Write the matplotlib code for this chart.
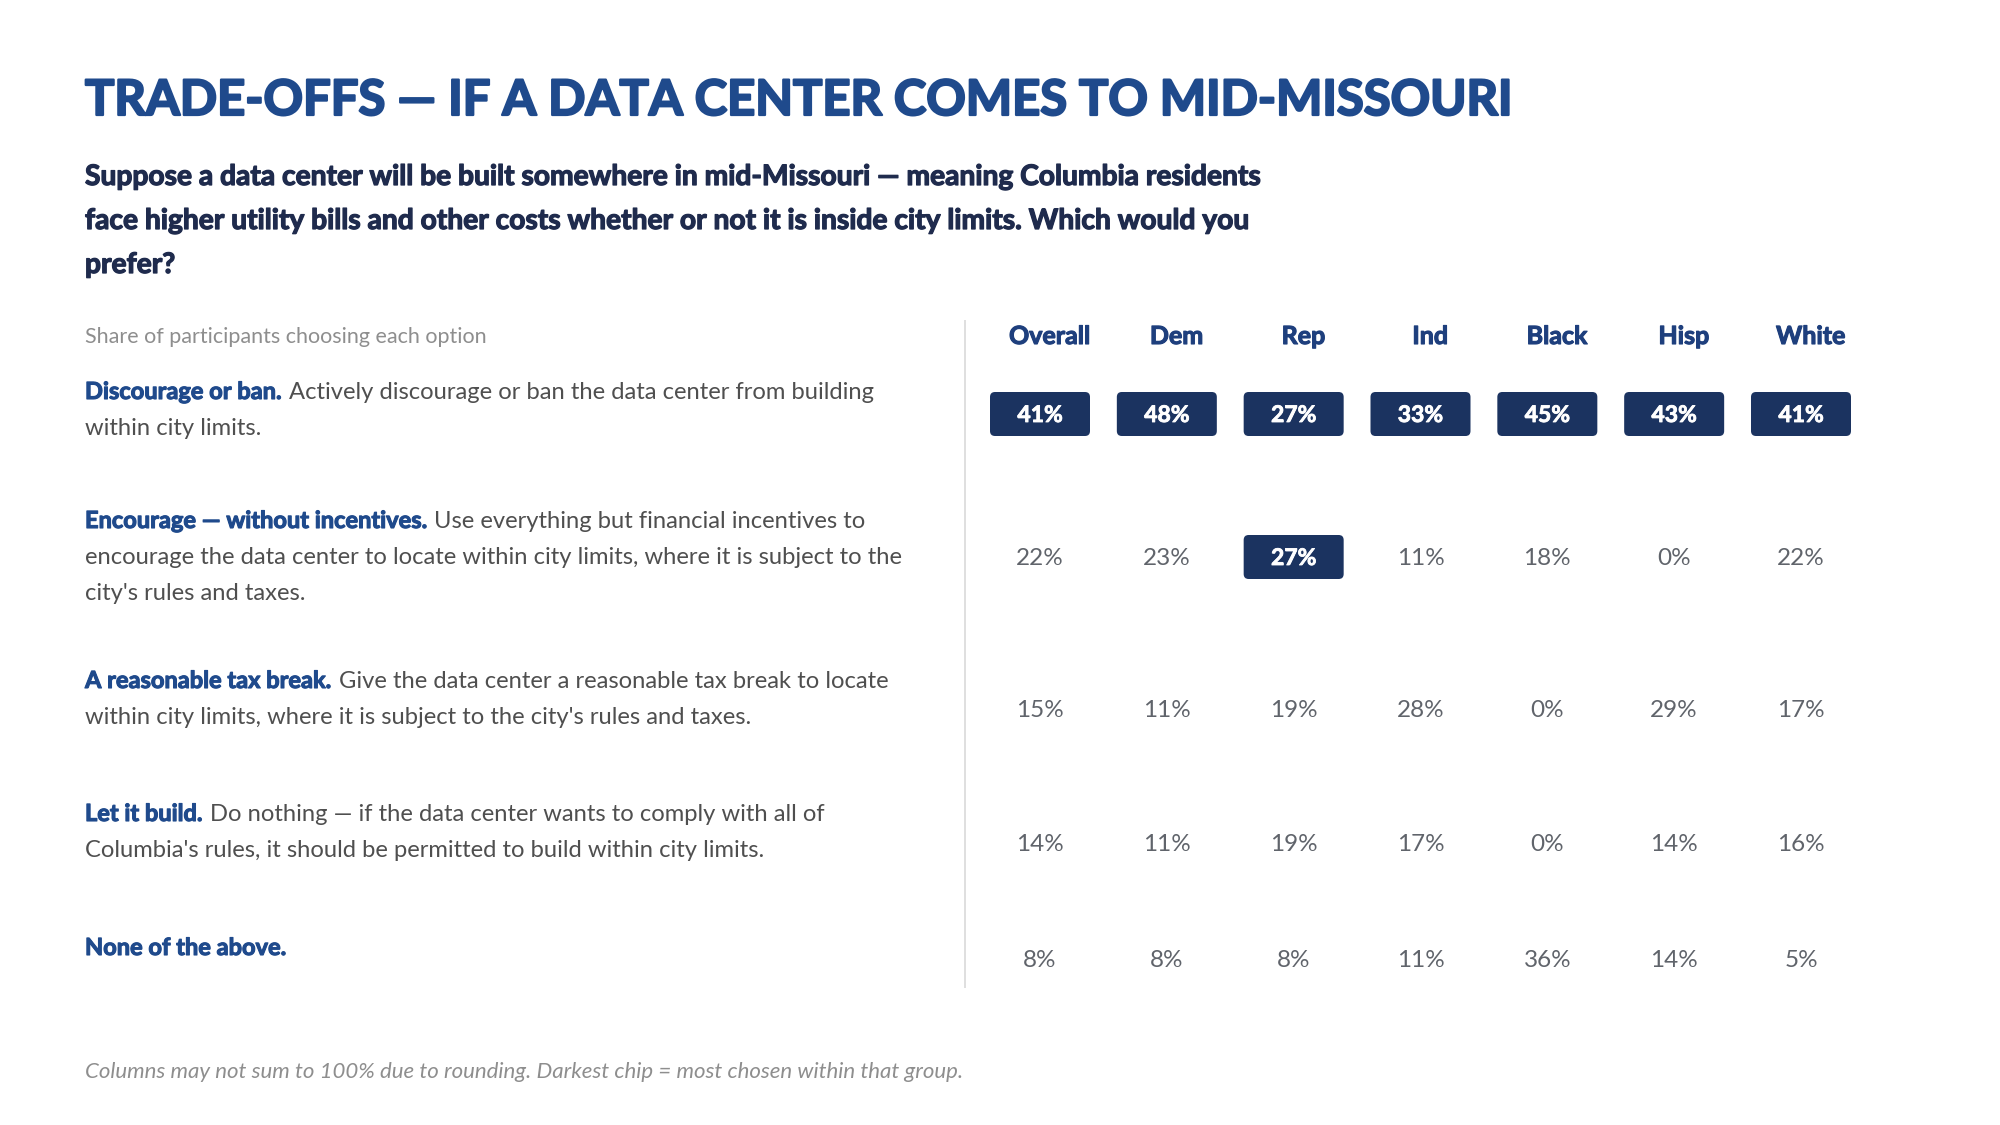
import matplotlib
matplotlib.use("Agg")
import matplotlib.pyplot as plt
from matplotlib.patches import FancyBboxPatch
import matplotlib.transforms as mtransforms
import matplotlib.patheffects as pe

plt.rcParams['font.family'] = ['Lato', 'DejaVu Sans']

# ---- data ----
title = "TRADE-OFFS — IF A DATA CENTER COMES TO MID-MISSOURI"
subtitle = ["Suppose a data center will be built somewhere in mid-Missouri — meaning Columbia residents",
            "face higher utility bills and other costs whether or not it is inside city limits. Which would you",
            "prefer?"]
share_note = "Share of participants choosing each option"
footer = "Columns may not sum to 100% due to rounding. Darkest chip = most chosen within that group."

groups = ["Overall", "Dem", "Rep", "Ind", "Black", "Hisp", "White"]
option_leads = ["Discourage or ban.",
                "Encourage — without incentives.",
                "A reasonable tax break.",
                "Let it build.",
                "None of the above."]
option_text = [
    ["Actively discourage or ban the data center from building",
     "within city limits."],
    ["Use everything but financial incentives to",
     "encourage the data center to locate within city limits, where it is subject to the",
     "city's rules and taxes."],
    ["Give the data center a reasonable tax break to locate",
     "within city limits, where it is subject to the city's rules and taxes."],
    ["Do nothing — if the data center wants to comply with all of",
     "Columbia's rules, it should be permitted to build within city limits."],
    [""],
]
shares = [
    [41, 48, 27, 33, 45, 43, 41],
    [22, 23, 27, 11, 18, 0, 22],
    [15, 11, 19, 28, 0, 29, 17],
    [14, 11, 19, 17, 0, 14, 16],
    [8, 8, 8, 11, 36, 14, 5],
]

# ---- colours ----
c_title = "#1f4a8c"
c_sub = "#1f2b4d"
c_head = "#1e3f7d"
c_chip = "#1b3360"
c_body = "#4f4f4f"
c_val = "#60646b"
c_note = "#8e8e8e"


def heavy(color, lw):
    # no Lato Black installed: thicken the bold face a little
    return [pe.withStroke(linewidth=lw, foreground=color)]


# ---- layout (pixels) ----
W, H = 2000, 1125
left = 85
label_base = [399, 528, 688, 821, 955]
value_base = [422, 565, 717, 851, 967]
line_gap = 36
col_first, col_last = 1040, 1801

fig = plt.figure(figsize=(20, 11.25), dpi=100)
ax = fig.add_axes([0, 0, 1, 1])
ax.set_xlim(0, W)
ax.set_ylim(H, 0)
ax.axis('off')

ax.text(left, 115, title, fontsize=35.25, fontweight='bold', color=c_title, va='baseline',
        path_effects=heavy(c_title, 1.6))
for i, line in enumerate(subtitle):
    ax.text(left, 185 + i * 44, line, fontsize=20.3, fontweight='bold', color=c_sub,
            va='baseline', path_effects=heavy(c_sub, 0.9))

ax.text(left, 343, share_note, fontsize=15.5, color=c_note, va='baseline')

fig.canvas.draw()
renderer = fig.canvas.get_renderer()
for r, lead in enumerate(option_leads):
    y = label_base[r]
    t = ax.text(left, y, lead, fontsize=17, fontweight='bold', color=c_title, va='baseline',
                path_effects=heavy(c_title, 0.8))
    x_end = t.get_window_extent(renderer).x1
    for k, line in enumerate(option_text[r]):
        if not line:
            continue
        x = x_end + 7 if k == 0 else left
        ax.text(x, y + k * line_gap, line, fontsize=17.1, color=c_body, va='baseline')

ax.plot([965, 965], [320, 988], color="#d9d9d9", lw=1.2, solid_capstyle='butt')

ax.text(left, 1078, footer, fontsize=16, style='italic', color=c_note, va='baseline')

# ---- table grid: x in column index units, y in pixels ----
step = (col_last - col_first) / (len(groups) - 1)
axt = fig.add_axes([0, 0, 1, 1])
axt.set_xlim(-col_first / step, (W - col_first) / step)
axt.set_ylim(H, 0)
axt.axis('off')
axt.patch.set_alpha(0)

head_tr = mtransforms.offset_copy(axt.transData, fig=fig, x=7, y=0, units='points')
for j, g in enumerate(groups):
    axt.text(j, 344, g, fontsize=18, fontweight='bold', color=c_head, ha='center',
             va='baseline', transform=head_tr, path_effects=heavy(c_head, 0.8))

chip_w, chip_h = 100 / step, 44
for j in range(len(groups)):
    col = [row[j] for row in shares]
    top = max(col)
    for r, v in enumerate(col):
        yb = value_base[r]
        if v == top:
            yc = yb - 8
            axt.add_patch(FancyBboxPatch((j - chip_w / 2, yc - chip_h / 2), chip_w, chip_h,
                                         boxstyle=f"round,pad=0,rounding_size={5 / step}",
                                         mutation_aspect=step, fc=c_chip, ec='none'))
            axt.text(j, yb, f"{v}%", fontsize=16.5, fontweight='bold', color='white',
                     ha='center', va='baseline', path_effects=heavy('white', 0.6))
        else:
            axt.text(j, yb, f"{v}%", fontsize=17.5, color=c_val, ha='center', va='baseline')

fig.savefig("out.png", dpi=100, facecolor='white')
